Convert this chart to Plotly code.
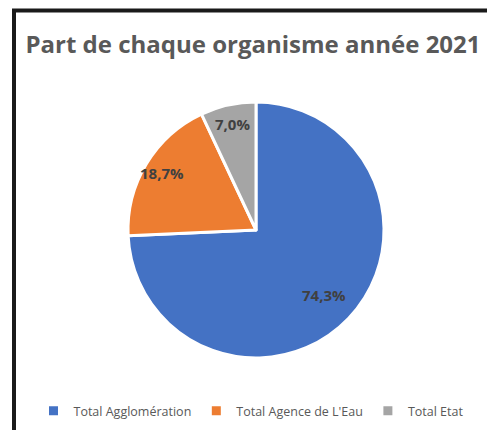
import math
import plotly.graph_objects as go

labels = ["Total Agglomération", "Total Agence de L'Eau", "Total Etat"]
values = [74.3, 18.7, 7.0]
text_labels = ["74,3%", "18,7%", "7,0%"]
colors = ["#4472C4", "#ED7D31", "#A5A5A5"]

W, H = 495, 430
OFF = 8  # page body margin
cx, cy, r = 256 - OFF, 230 - OFF, 128
label_radius = [0.73, 0.86, 0.85]  # fraction of radius for each data label

fig = go.Figure(go.Pie(
    labels=labels, values=values, text=text_labels,
    textinfo="none",
    sort=False, direction="clockwise", rotation=0,
    marker=dict(colors=colors, line=dict(color="white", width=3)),
    domain=dict(x=[(cx - r)/W, (cx + r)/W], y=[1-(cy + r)/H, 1-(cy - r)/H]),
    hoverinfo="label+percent",
))

# data labels placed at slice mid-angles (computed from the values)
total = sum(values)
cum = 0
annotations = []
for v, t, f in zip(values, text_labels, label_radius):
    mid = (cum + v/2) / total * 2 * math.pi
    cum += v
    px = cx + f * r * math.sin(mid)
    py = cy - f * r * math.cos(mid)
    annotations.append(dict(x=px/W, y=1-py/H, xref="paper", yref="paper", text=t,
                            xanchor="center", yanchor="middle", showarrow=False,
                            font=dict(family="Open Sans", size=15, color="#404040", weight="bold")))

fig.update_layout(
    width=W, height=H, margin=dict(l=0, r=0, t=0, b=0),
    paper_bgcolor="white", plot_bgcolor="white",
    title=dict(text="Part de chaque organisme année 2021", x=(253-OFF)/W, xanchor="center",
               y=1-(45-OFF)/H, yanchor="middle",
               font=dict(family="Open Sans", size=24, color="#595959", weight="bold")),
    legend=dict(orientation="h", x=(251-OFF)/W, xanchor="center", y=1-(411-OFF)/H, yanchor="middle",
                font=dict(family="Open Sans", size=12.5, color="#595959"),
                itemwidth=30, tracegroupgap=0),
    showlegend=True,
    annotations=annotations,
    shapes=[dict(type="rect", xref="paper", yref="paper",
                 x0=(14-OFF)/W, x1=1.05, y0=-0.05, y1=1-(10.5-OFF)/H,
                 line=dict(color="#1a1a1a", width=4), layer="above")],
)
fig.write_html("out.html")
